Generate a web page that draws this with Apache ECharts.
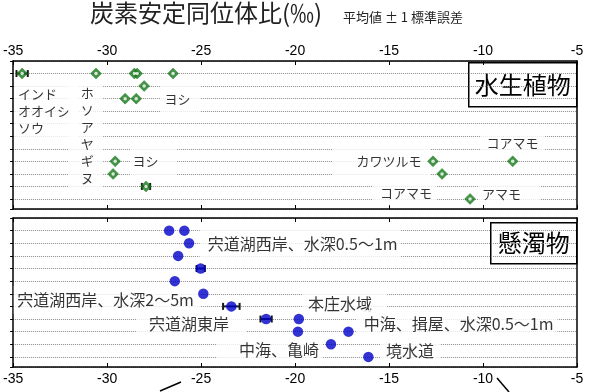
<!DOCTYPE html>
<html><head><meta charset="utf-8">
<script src="https://cdn.jsdelivr.net/npm/echarts@6/dist/echarts.min.js"></script>
<style>html,body{margin:0;padding:0;background:#fff}#c{width:591px;height:392px}</style>
</head><body><div id="c"></div>
<script>
// ---- data ----
const xTicks = [-35, -30, -25, -20, -15, -10, -5];

// 水生植物 (aquatic plants): δ13C value and row index (1 = top row)
const plantValues = [-34.52, -30.59, -28.55, -28.40, -26.49, -28.03, -29.04, -28.45, -29.57, -12.66, -8.42, -29.68, -12.18, -27.93, -10.69];
const plantRows   = [1, 1, 1, 1, 1, 2, 3, 3, 8, 8, 8, 9, 9, 10, 11];
const plantErrValues = [-34.52, -27.93];
const plantErrRows   = [1, 10];
const plantErrSizes  = [0.30, 0.22];

// 懸濁物 (suspended matter)
const sestonValues = [-26.70, -25.89, -25.64, -26.22, -25.02, -26.40, -24.88, -23.39, -21.54, -19.80, -19.85, -17.16, -18.09, -16.10];
const sestonRows   = [1, 1, 2, 3, 4, 5, 6, 7, 8, 8, 9, 9, 10, 11];
const sestonErrValues = [-25.02, -23.39, -21.54];
const sestonErrRows   = [4, 7, 8];
const sestonErrSizes  = [0.22, 0.44, 0.30];

const plantLabels  = ['インド\nオオイシ\nソウ', 'ホ\nソ\nア\nヤ\nギ\nヌ', 'ヨシ', 'ヨシ', 'カワツルモ', 'コアマモ', 'コアマモ', 'アマモ'];
const sestonLabels = ['宍道湖西岸、水深0.5～1m', '宍道湖西岸、水深2～5m', '本庄水域', '宍道湖東岸', '中海、揖屋、水深0.5～1m', '中海、亀崎', '境水道'];

// ---- annotation placement (data coordinates of label boxes) ----
const plantLabelPlace = [
  {x: -34.92, y: 4.03, align: 'left', pad: [6, 8, 6, 3.5]},
  {x: -31.14, y: 5.98, pad: [5, 9.5, 5, 12.5]},
  {x: -26.12, y: 3.03, pad: [8.5, 9.5, 12.5, 4.5]},
  {x: -27.53, y: 8.01, pad: [10.5, 18.5, 9.5, 2.5]},
  {x: -15.40, y: 8.01, pad: [3.5, 8.5, 16.5, 23.5]},
  {x: -8.43, y: 6.58, pad: [3.5, 6.5, 4.5, 6.5]},
  {x: -14.15, y: 10.49, pad: [1, 5, 7.5, 7]},
  {x: -8.62, y: 10.57, pad: [2.5, 19, 3.5, 4]}
];
const sestonLabelPlace = [
  {x: -19.73, y: 2.06, pad: [11, 3, 9, 8]},
  {x: -29.99, y: 6.49, pad: [5, 7, 3, 3.5]},
  {x: -17.34, y: 6.77, pad: [0, 15, 0, 5]},
  {x: -25.53, y: 8.35, pad: [3, 17, 6, 13]},
  {x: -11.38, y: 8.39, pad: [4, 4, 4, 7]},
  {x: -21.36, y: 10.45, pad: [2, 3, 4, 22]},
  {x: -13.88, y: 10.49, pad: [4, 6, 1, 6]}
];

const GREEN = '#17781a', BLUE = '#0000c8';
const CJK = '"Noto Sans CJK JP", sans-serif';
const NUM = '"Liberation Sans", Arial, sans-serif';

function xAxisDef(grid, pos, showLabel) {
  return {
    type: 'value', gridIndex: grid, position: pos, min: xTicks[0], max: xTicks[xTicks.length - 1], interval: 5,
    axisLine: {show: true, onZero: false, lineStyle: {color: '#000', width: 1.5}},
    axisTick: {show: true, inside: true, length: 4, lineStyle: {color: '#000', width: 1}},
    axisLabel: {show: showLabel, fontSize: 14, color: '#000', fontFamily: NUM, margin: pos === 'top' ? 3 : 5},
    splitLine: {show: false}
  };
}
function yAxisDef(grid, pos, main) {
  return {
    type: 'value', gridIndex: grid, position: pos, min: 0, max: 11.8, interval: 1, inverse: true,
    axisLine: {show: true, onZero: false, lineStyle: {color: '#000', width: 1.5}},
    axisTick: {show: main, inside: false, length: 3, lineStyle: {color: '#000'}},
    axisLabel: {show: false},
    splitLine: {show: main, lineStyle: {type: 'dotted', color: '#8a8a8a', width: 1}}
  };
}
function errSeries(xi, yi, vals, rows, sizes) {
  return {
    type: 'custom', xAxisIndex: xi, yAxisIndex: yi, z: 3, silent: true,
    data: vals.map((v, i) => [v, rows[i], sizes[i]]),
    renderItem: function (params, api) {
      const x = api.value(0), r = api.value(1), e = api.value(2);
      const a = api.coord([x - e, r]), b = api.coord([x + e, r]);
      const st = {stroke: '#1a1a1a', lineWidth: 2};
      return {type: 'group', children: [
        {type: 'line', shape: {x1: a[0], y1: a[1], x2: b[0], y2: b[1]}, style: st},
        {type: 'line', shape: {x1: a[0], y1: a[1] - 3.5, x2: a[0], y2: a[1] + 3.5}, style: st},
        {type: 'line', shape: {x1: b[0], y1: b[1] - 3.5, x2: b[0], y2: b[1] + 3.5}, style: st}
      ]};
    }
  };
}
function labelSeries(xi, yi, texts, place, fontSize, lineHeight) {
  return {
    type: 'scatter', xAxisIndex: xi, yAxisIndex: yi, symbolSize: 1, silent: true, clip: false, z: 2,
    itemStyle: {color: 'rgba(0,0,0,0)'},
    data: texts.map((t, i) => ({
      value: [place[i].x, place[i].y],
      label: {
        show: true, formatter: t, position: 'inside', align: place[i].align || 'center', verticalAlign: 'middle',
        padding: place[i].pad, backgroundColor: '#fff', fontSize: fontSize, lineHeight: lineHeight,
        color: '#000', fontFamily: CJK
      }
    }))
  };
}
const plantPoints = plantValues.map((v, i) => [v, plantRows[i]]);

const chart = echarts.init(document.getElementById('c'), null, {renderer: 'canvas'});
chart.setOption({
  animation: false,
  backgroundColor: '#fff',
  grid: [
    {left: 13, right: 14, top: 61, height: 148},
    {left: 13, right: 14, top: 218, height: 149}
  ],
  xAxis: [
    xAxisDef(0, 'top', true), xAxisDef(0, 'bottom', false),
    xAxisDef(1, 'top', false), xAxisDef(1, 'bottom', true)
  ],
  yAxis: [
    yAxisDef(0, 'left', true), yAxisDef(0, 'right', false),
    yAxisDef(1, 'left', true), yAxisDef(1, 'right', false)
  ],
  series: [
    labelSeries(0, 0, plantLabels, plantLabelPlace, 13, 17),
    labelSeries(3, 2, sestonLabels, sestonLabelPlace, 16, 20),
    errSeries(0, 0, plantErrValues, plantErrRows, plantErrSizes),
    errSeries(3, 2, sestonErrValues, sestonErrRows, sestonErrSizes),
    {
      type: 'scatter', xAxisIndex: 0, yAxisIndex: 0, z: 5, symbol: 'diamond', symbolSize: 11,
      itemStyle: {color: GREEN, borderColor: GREEN, borderWidth: 0.5},
      data: plantPoints
    },
    {
      type: 'scatter', xAxisIndex: 0, yAxisIndex: 0, z: 6, symbol: 'circle', symbolSize: 3.5, silent: true,
      itemStyle: {color: '#fff'},
      data: plantPoints
    },
    {
      type: 'scatter', xAxisIndex: 3, yAxisIndex: 2, z: 5, symbol: 'circle', symbolSize: 10.5,
      itemStyle: {color: BLUE},
      data: sestonValues.map((v, i) => [v, sestonRows[i]])
    }
  ],
  graphic: [
    {type: 'text', left: 90, top: 1, style: {text: '炭素安定同位体比(‰)', font: '24px ' + CJK, fill: '#222'}},
    {type: 'text', left: 343, top: 11, style: {text: '平均値 ± 1 標準誤差', font: '13px ' + CJK, fill: '#222'}},
    {type: 'group', left: 468, top: 62, children: [
      {type: 'rect', shape: {x: 0, y: 0, width: 108, height: 44}, style: {fill: '#fff', stroke: '#000', lineWidth: 1.5}},
      {type: 'text', x: 54, y: 22, style: {text: '水生植物', font: '24px ' + CJK, fill: '#000', align: 'center', verticalAlign: 'middle'}}
    ], z: 10},
    {type: 'group', left: 490, top: 222, children: [
      {type: 'rect', shape: {x: 0, y: 0, width: 86, height: 41}, style: {fill: '#fff', stroke: '#000', lineWidth: 1.5}},
      {type: 'text', x: 43, y: 20.5, style: {text: '懸濁物', font: '24px ' + CJK, fill: '#000', align: 'center', verticalAlign: 'middle'}}
    ], z: 10},
    {type: 'line', shape: {x1: 160, y1: 391, x2: 181, y2: 382}, style: {stroke: '#000', lineWidth: 1.5}},
    {type: 'line', shape: {x1: 497, y1: 378, x2: 509, y2: 392}, style: {stroke: '#000', lineWidth: 1.5}}
  ]
});
</script>
</body></html>
